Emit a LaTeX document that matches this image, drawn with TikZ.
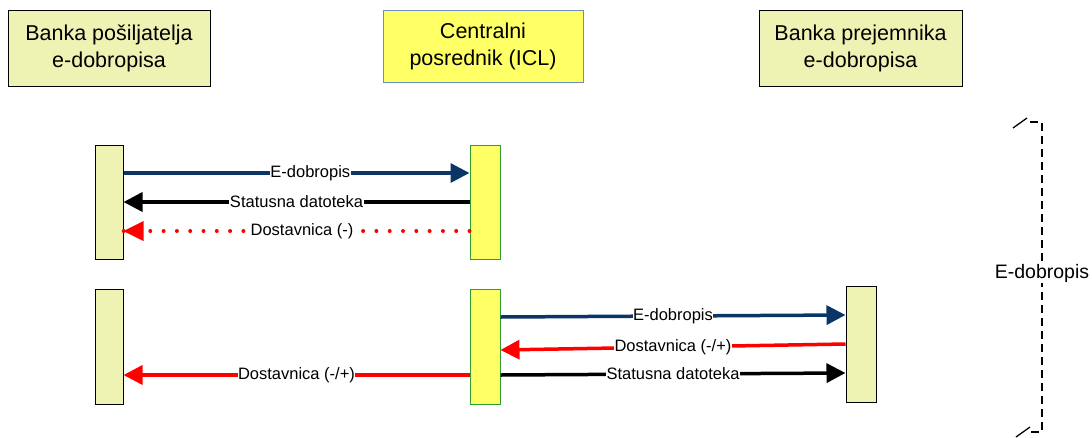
\documentclass[tikz,border=0pt]{standalone}
\usepackage{fontspec}
\setmainfont{Liberation Sans}
\usetikzlibrary{arrows.meta}
\definecolor{palegreen}{HTML}{EEF3B4}
\definecolor{icly}{HTML}{FFFF66}
\definecolor{iclborder}{HTML}{6C8EBF}
\definecolor{navy}{HTML}{0B3467}
\definecolor{barg}{HTML}{2E9E2E}
\begin{document}
\begin{tikzpicture}[x=1pt,y=-1pt,
  hdr/.style={draw=black,line width=1pt,fill=palegreen,align=center,font=\fontsize{21.5}{27}\selectfont,inner sep=0pt},
  bank/.style={draw=black,line width=1pt,fill=palegreen,minimum width=28pt,inner sep=0pt},
  icl/.style={draw=barg,line width=1pt,fill=icly,minimum width=30pt,inner sep=0pt},
  msg/.style={line width=3.5pt,-{Triangle[length=19pt,width=19pt]}},
  lbl/.style={fill=white,text=black,inner sep=0.5pt,font=\fontsize{16.5}{18}\selectfont}
]
\useasboundingbox (0,0) rectangle (1092,437);
% headers
\node[hdr,minimum width=202pt,minimum height=76pt] (hL) at (109,48) {Banka pošiljatelja\\e-dobropisa};
\node[hdr,draw=iclborder,fill=icly,minimum width=200pt,minimum height=72pt] (hC) at (483,46) {Centralni\\posrednik (ICL)};
\node[hdr,minimum width=203pt,minimum height=76pt] (hR) at (860.5,48) {Banka prejemnika\\e-dobropisa};
% lifeline bars
\node[bank,minimum height=114pt] (b1) at (109,202) {};
\node[icl,minimum height=114pt] (c1) at (485,202) {};
\node[bank,minimum height=115pt] (b2) at (109,346.5) {};
\node[icl,minimum height=115pt] (c2) at (485,346.5) {};
\node[bank,minimum width=30pt,minimum height=116pt] (r2) at (861,344) {};
% top group
\draw[msg,navy] (b1.east|-0,173) -- node[lbl,pos=0.54]{E-dobropis} (c1.west|-0,173);
\draw[msg,black] (c1.west|-0,202) -- node[lbl,pos=0.5]{Statusna datoteka} (b1.east|-0,202);
\draw[red,line width=4pt,line cap=round,dash pattern=on 0pt off 13.3pt] (c1.west|-0,231) -- (b1.east|-0,231);
\fill[red] (b1.east|-0,231) -- ++(20,-10) -- ++(0,20) -- cycle;
\node[lbl] (d1) at (302,231) {Dostavnica (-)};
% bottom group
\draw[msg,navy] (c2.east|-0,317) -- node[lbl,pos=0.5]{E-dobropis} (r2.west|-0,315);
\draw[msg,red] (r2.west|-0,344) -- node[lbl,pos=0.5]{Dostavnica (-/+)} (c2.east|-0,350);
\draw[msg,black] (c2.east|-0,375) -- node[lbl,pos=0.5]{Statusna datoteka} (r2.west|-0,373);
\draw[msg,red] (c2.west|-0,375) -- node[lbl,pos=0.5]{Dostavnica (-/+)} (b2.east|-0,375);
% bracket
\coordinate (bt) at (1042,122);
\coordinate (bb) at (1042,432);
\draw[line width=1.5pt,dash pattern=on 8pt off 5pt] (1030,122) -- (bt) -- node[lbl,pos=0.49,font=\fontsize{19.5}{21}\selectfont,inner sep=0pt]{E-dobropis} (bb) -- (1030,432);
\draw[line width=1.3pt] (1013,128) -- (1027,118);
\draw[line width=1.3pt] (1016,437) -- (1030,427);
\end{tikzpicture}
\end{document}
